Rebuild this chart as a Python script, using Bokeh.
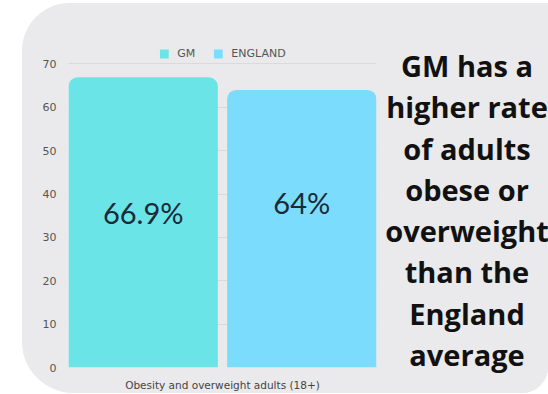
from bokeh.plotting import figure
from bokeh.models import ColumnDataSource, FactorRange, Range1d, Legend, LegendItem, Div
from bokeh.transform import dodge
from bokeh.embed import file_html
from bokeh.resources import INLINE

category = ["Obesity and overweight adults (18+)"]
series = ["GM", "ENGLAND"]
gm_values = [66.9]
england_values = [64]
value_labels = ["66.9%", "64%"]
label_pos = [35.8, 38.1]
y_ticks = [0, 10, 20, 30, 40, 50, 60, 70]
headline = ["GM has a", "higher rate", "of adults", "obese or", "overweight",
            "than the", "England", "average"]

colors = ["#6ae4e6", "#7cdcfd"]
BG = "#eaeaec"
AXIS_FONT = "DejaVu Sans"

p = figure(width=526, height=390, output_backend="svg", toolbar_location=None,
           x_range=FactorRange(factors=category, range_padding=0),
           y_range=Range1d(0, 75.4),
           min_border_left=46, min_border_right=172, min_border_top=37, min_border_bottom=20,
           background_fill_color=BG, border_fill_color=BG, outline_line_color=None)
p.styles = {"position": "absolute", "left": "22px", "top": "3px", "overflow": "hidden",
            "background-color": BG,
            "border-top-left-radius": "48px", "border-top-right-radius": "0px",
            "border-bottom-right-radius": "26px", "border-bottom-left-radius": "52px"}

src_gm = ColumnDataSource(dict(x=category, top=gm_values))
src_en = ColumnDataSource(dict(x=category, top=england_values))
r1 = p.vbar(x=dodge("x", -0.2575, range=p.x_range), top="top", width=0.485, source=src_gm,
            fill_color=colors[0], line_color=None, border_radius=(9, 9, 0, 0))
r2 = p.vbar(x=dodge("x", 0.2575, range=p.x_range), top="top", width=0.485, source=src_en,
            fill_color=colors[1], line_color=None, border_radius=(9, 9, 0, 0))

p.text(x=dodge("x", -0.2575, range=p.x_range), y="y", text="t",
       source=ColumnDataSource(dict(x=category, y=label_pos[:1], t=value_labels[:1])),
       text_align="center", text_baseline="middle", text_font={"value": "Lato"},
       text_font_size="29px", text_color="#1b2a38")
p.text(x=dodge("x", 0.2575, range=p.x_range), y="y", text="t",
       source=ColumnDataSource(dict(x=category, y=label_pos[1:], t=value_labels[1:])),
       text_align="center", text_baseline="middle", text_font={"value": "Lato"},
       text_font_size="29px", text_color="#1b2a38")

legend = Legend(items=[LegendItem(label=series[0], renderers=[r1]),
                       LegendItem(label=series[1], renderers=[r2])],
                orientation="horizontal", location="top_center",
                background_fill_alpha=0, border_line_color=None,
                glyph_width=11, glyph_height=11, label_height=11,
                label_text_font=AXIS_FONT, label_text_font_size="11px",
                label_text_color="#555555", spacing=15, padding=0, margin=7,
                label_standoff=8)
p.add_layout(legend, "center")

p.ygrid.grid_line_color = "#dadadc"
p.ygrid.grid_line_width = 1
p.xgrid.grid_line_color = None
p.yaxis.ticker = y_ticks
p.yaxis.axis_line_color = None
p.yaxis.major_tick_line_color = None
p.yaxis.minor_tick_line_color = None
p.yaxis.major_label_text_font = AXIS_FONT
p.yaxis.major_label_text_font_size = "11px"
p.yaxis.major_label_text_color = "#555555"
p.yaxis.major_label_standoff = 6
p.xaxis.axis_line_color = None
p.xaxis.major_tick_line_color = None
p.xaxis.major_label_text_font = AXIS_FONT
p.xaxis.major_label_text_font_size = "10.5px"
p.xaxis.major_label_text_color = "#444444"
p.xaxis.major_label_standoff = 5

text_html = ('<div style="font-family: \'Open Sans\'; font-weight: bold; font-size: 29px; '
             'line-height: 41.3px; text-align: center; color: #111111; width: 168px; '
             'white-space: nowrap;">' + "<br>".join(headline) + '</div>')
div = Div(text=text_html,
          styles={"position": "absolute", "left": "361px", "top": "42px"})
p.elements = [div]

open("out.html", "w").write(file_html(p, INLINE))
